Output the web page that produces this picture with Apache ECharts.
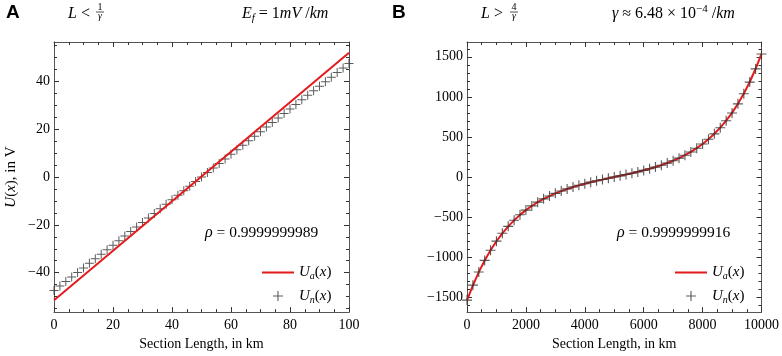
<!DOCTYPE html>
<html><head><meta charset="utf-8">
<script src="https://cdn.jsdelivr.net/npm/echarts@6/dist/echarts.min.js"></script>
<style>html,body{margin:0;padding:0;background:#fff}#c{width:782px;height:356px}</style>
</head><body><div id="c"></div>
<script>
// ---------- data ----------
const yTicksA = [-40, -20, 0, 20, 40];
const yMinorA = [-55, -50, -45, -35, -30, -25, -15, -10, -5, 5, 10, 15, 25, 30, 35, 45, 50, 55];
const yTicksB = [-1500, -1000, -500, 0, 500, 1000, 1500];
const yMinorB = [-1600, -1400, -1300, -1200, -1100, -900, -800, -700, -600, -400, -300, -200, -100,
                 100, 200, 300, 400, 600, 700, 800, 900, 1100, 1200, 1300, 1400, 1600];

const xA_analytic = [0, 100];
const uA_analytic = [-51.5, 52];
const xA_numeric = [0,2,4,6,8,10,12,14,16,18,20,22,24,26,28,30,32,34,36,38,40,42,44,46,48,50,
                    52,54,56,58,60,62,64,66,68,70,72,74,76,78,80,82,84,86,88,90,92,94,96,98,100];
const uA_numeric = [-47.5,-45.6,-43.7,-41.8,-39.9,-38.0,-36.1,-34.2,-32.3,-30.4,-28.5,-26.6,-24.7,
                    -22.8,-20.9,-19.0,-17.1,-15.2,-13.3,-11.4,-9.5,-7.6,-5.7,-3.8,-1.9,0,
                    1.9,3.8,5.7,7.6,9.5,11.4,13.3,15.2,17.1,19.0,20.9,22.8,24.7,26.6,28.5,30.4,
                    32.3,34.2,36.1,38.0,39.9,41.8,43.7,45.6,47.5];

const xB = [0,200,400,600,800,1000,1200,1400,1600,1800,2000,2200,2400,2600,2800,3000,3200,3400,3600,3800,
            4000,4200,4400,4600,4800,5000,5200,5400,5600,5800,6000,6200,6400,6600,6800,7000,7200,7400,
            7600,7800,8000,8200,8400,8600,8800,9000,9200,9400,9600,9800,10000];
const uB_analytic = [-1538,-1351,-1186,-1041,-914,-801,-703,-616,-540,-472,-413,-361,-314,-273,-237,-204,
                     -175,-149,-125,-104,-84,-65,-48,-32,-16,0,16,32,48,65,84,104,125,149,175,204,237,
                     273,314,361,413,472,540,616,703,801,914,1041,1186,1351,1538];
const uB_numeric = [-1535,-1349,-1185,-1040,-913,-800,-702,-615,-539,-471,-412,-360,-313,-272,-236,-203,
                    -174,-148,-124,-103,-83,-64,-47,-31,-15,0,15,31,47,64,83,103,124,148,174,203,236,
                    272,313,360,412,471,539,615,702,800,913,1040,1185,1349,1535];

// ---------- styling ----------
const SERIF = 'Liberation Serif';
const RED = '#e41a1c';
const MARK = '#333';
const AXIS = '#555';
const PLUS = 'path://M4,0h1v4h4v1h-4v4h-1v-4h-4v-1h4z';
const LINE_ICON = 'path://M0,0L32,0L32,0Z M0,4H32V6H0Z M0,10L32,10L32,10Z';
const zip = (a, b) => a.map((v, i) => [v, b[i]]);
const fmt = v => String(v).replace('-', '\u2212');

const rich = {
  i: {fontFamily: SERIF, fontStyle: 'italic', fontSize: 16, color: '#000'},
  n: {fontFamily: SERIF, fontSize: 16, color: '#000'},
  sub: {fontFamily: SERIF, fontStyle: 'italic', fontSize: 11, padding: [9, 0, 0, 0], color: '#000'},
  sup: {fontFamily: SERIF, fontSize: 11, padding: [0, 0, 9, 0], color: '#000'},
  fr: {fontFamily: SERIF, fontSize: 10, color: '#000'},
  fri: {fontFamily: SERIF, fontStyle: 'italic', fontSize: 10, color: '#000'},
  ri: {fontFamily: SERIF, fontStyle: 'italic', fontSize: 16, color: '#000'},
  rn: {fontFamily: SERIF, fontSize: 15.5, color: '#000'}
};
const lrich = {
  i: {fontFamily: SERIF, fontStyle: 'italic', fontSize: 15, color: '#000'},
  n: {fontFamily: SERIF, fontSize: 15, color: '#000'},
  sub: {fontFamily: SERIF, fontStyle: 'italic', fontSize: 10, padding: [8, 0, 0, 0], color: '#000'}
};

function xAxes(g, min, max, interval) {
  const base = {
    gridIndex: g, type: 'value', min, max, interval,
    axisLine: {show: true, onZero: false, lineStyle: {color: AXIS, width: 1}},
    axisTick: {show: true, inside: true, length: 5, lineStyle: {color: MARK}},
    minorTick: {show: true, splitNumber: 4, length: 3, lineStyle: {color: MARK}},
    splitLine: {show: false}, minorSplitLine: {show: false}
  };
  return [
    Object.assign({}, base, {
      position: 'bottom',
      axisLabel: {show: true, margin: 6, color: '#000', fontFamily: SERIF, fontSize: 14, formatter: fmt},
      name: 'Section Length, in km', nameLocation: 'middle', nameGap: 21,
      nameTextStyle: {color: '#000', fontFamily: SERIF, fontSize: 14}
    }),
    Object.assign({}, base, {position: 'top', axisLabel: {show: false}})
  ];
}
function yAxes(g, min, max, ticks, minor, name) {
  const major = {
    gridIndex: g, type: 'value', min, max,
    axisLine: {show: true, onZero: false, lineStyle: {color: AXIS, width: 1}},
    axisTick: {show: true, inside: true, length: 5, customValues: ticks, lineStyle: {color: MARK}},
    splitLine: {show: false}
  };
  const mnr = {
    gridIndex: g, type: 'value', min, max,
    axisLine: {show: false, onZero: false},
    axisTick: {show: true, inside: true, length: 3, customValues: minor, lineStyle: {color: MARK}},
    axisLabel: {show: false}, splitLine: {show: false}
  };
  const left = Object.assign({}, major, {
    position: 'left',
    axisLabel: {show: true, customValues: ticks, margin: 4, color: '#000', fontFamily: SERIF, fontSize: 14, formatter: fmt}
  });
  if (name) {
    left.name = name; left.nameLocation = 'middle'; left.nameGap = 35;
    left.nameTextStyle = {color: '#000', fontFamily: SERIF, fontSize: 15, rich: lrich};
  }
  return [
    left,
    Object.assign({}, mnr, {position: 'left'}),
    Object.assign({}, major, {position: 'right', axisLabel: {show: false}}),
    Object.assign({}, mnr, {position: 'right'})
  ];
}

const legendFmt = name => {
  const s = name.startsWith('Ua') ? 'a' : 'n';
  return '{i|U}{sub|' + s + '}{n|(}{i|x}{n|)}';
};
function legend(left, names) {
  return {
    orient: 'vertical', left, top: 260, itemWidth: 32, itemHeight: 10, itemGap: 7,
    selectedMode: false, formatter: legendFmt,
    data: [{name: names[0], icon: LINE_ICON}, {name: names[1]}],
    textStyle: {fontFamily: SERIF, fontSize: 15, color: '#000', rich: lrich}
  };
}

function fraction(cx, num) {
  return [
    {type: 'text', x: cx, y: 7.5, style: {text: '{fr|' + num + '}', rich, align: 'center', verticalAlign: 'middle'}},
    {type: 'line', shape: {x1: cx - 4, y1: 12, x2: cx + 4, y2: 12}, style: {stroke: '#000', lineWidth: 0.7}},
    {type: 'text', x: cx, y: 16.5, style: {text: '{fri|\u03b3}', rich, align: 'center', verticalAlign: 'middle'}}
  ];
}

const chart = echarts.init(document.getElementById('c'), null, {renderer: 'canvas'});
chart.setOption({
  animation: false,
  backgroundColor: '#fff',
  grid: [
    {left: 54, right: 433, top: 42, bottom: 40},
    {left: 467, right: 20, top: 42, bottom: 40}
  ],
  xAxis: [].concat(xAxes(0, 0, 100, 20), xAxes(1, 0, 10000, 2000)),
  yAxis: [].concat(
    yAxes(0, -56.5, 56.5, yTicksA, yMinorA, '{i|U}{n|(}{i|x}{n|), in V}'),
    yAxes(1, -1685, 1685, yTicksB, yMinorB, null)
  ),
  legend: [legend(257, ['Ua_A', 'Un_A']), legend(670, ['Ua_B', 'Un_B'])],
  series: [
    {type: 'line', name: 'Ua_A', xAxisIndex: 0, yAxisIndex: 0, data: zip(xA_analytic, uA_analytic),
     symbol: 'none', lineStyle: {color: RED, width: 2}, itemStyle: {color: RED}, z: 3},
    {type: 'scatter', name: 'Un_A', xAxisIndex: 0, yAxisIndex: 0, data: zip(xA_numeric, uA_numeric),
     symbol: PLUS, symbolSize: 9, symbolKeepAspect: true, itemStyle: {color: MARK}, z: 2},
    {type: 'line', name: 'Ua_B', xAxisIndex: 2, yAxisIndex: 4, data: zip(xB, uB_analytic),
     symbol: 'none', lineStyle: {color: RED, width: 2}, itemStyle: {color: RED}, z: 2},
    {type: 'scatter', name: 'Un_B', xAxisIndex: 2, yAxisIndex: 4, data: zip(xB, uB_numeric),
     symbol: PLUS, symbolSize: 10, symbolKeepAspect: true, itemStyle: {color: MARK}, z: 3}
  ],
  graphic: [].concat(
    [
      {type: 'text', x: 6, y: 3, style: {text: 'A', font: 'bold 19px "Liberation Sans"', fill: '#000'}},
      {type: 'text', x: 392, y: 3, style: {text: 'B', font: 'bold 19px "Liberation Sans"', fill: '#000'}},
      {type: 'text', x: 68, y: 14, style: {text: '{i|L}{n| <}', rich, verticalAlign: 'middle'}},
      {type: 'text', x: 481, y: 14, style: {text: '{i|L}{n| >}', rich, verticalAlign: 'middle'}},
      {type: 'text', x: 242, y: 14, style: {text: '{i|E}{sub|f}{n| = 1}{i|mV}{n| /}{i|km}', rich, verticalAlign: 'middle'}},
      {type: 'text', x: 612, y: 14, style: {text: '{i|\u03b3}{n| \u2248 6.48 \u00d7 10}{sup|\u22124}{n| /}{i|km}', rich, verticalAlign: 'middle'}},
      {type: 'text', x: 205, y: 233, style: {text: '{ri|\u03c1}{rn| = 0.9999999989}', rich, verticalAlign: 'middle'}},
      {type: 'text', x: 617, y: 233, style: {text: '{ri|\u03c1}{rn| = 0.9999999916}', rich, verticalAlign: 'middle'}}
    ],
    fraction(100, '1'),
    fraction(514, '4')
  )
});
</script></body></html>
